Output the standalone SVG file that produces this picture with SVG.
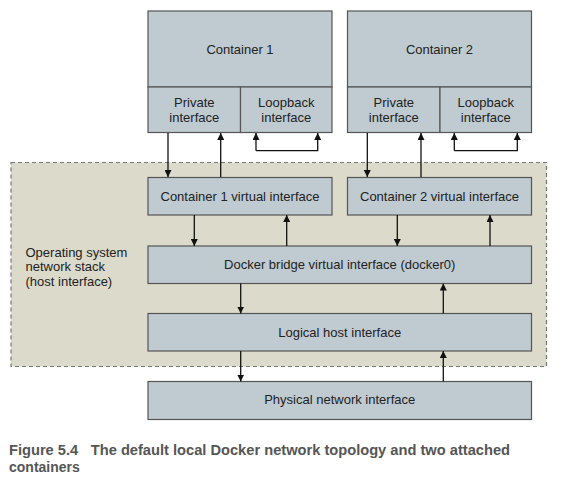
<svg xmlns="http://www.w3.org/2000/svg" width="561" height="482" viewBox="0 0 561 482">
<style>
.box{fill:#bfcbd1;stroke:#555;stroke-width:1.2}
.t{font-family:"Liberation Sans",Arial,sans-serif;font-size:13px;fill:#222;text-anchor:middle}
.lbl{font-family:"Liberation Sans",Arial,sans-serif;font-size:13px;fill:#222}
.cap{font-family:"Liberation Sans",Arial,sans-serif;font-size:14px;font-weight:bold;fill:#555}
.c{fill:none;stroke:#111;stroke-width:1.3}
</style>
<defs>
<marker id="ah" viewBox="0 0 10 10" refX="10" refY="5" markerWidth="7" markerHeight="7" markerUnits="userSpaceOnUse" orient="auto">
<path d="M0,0 L10,5 L0,10 z" fill="#111"/>
</marker>
</defs>
<rect width="561" height="482" fill="#fff"/>
<g id="host-stack">
<rect x="11" y="162.5" width="535.5" height="204" fill="#dcdacb" stroke="#777" stroke-width="1.2" stroke-dasharray="4,3"/>
<text class="lbl" x="25.5" y="257">Operating system</text>
<text class="lbl" x="25.5" y="271">network stack</text>
<text class="lbl" x="25.5" y="286">(host interface)</text>
</g>
<g id="container1">
<rect class="box" x="148" y="11" width="184" height="76"/>
<text class="t" x="240" y="54">Container 1</text>
<rect class="box" x="148" y="87" width="92.5" height="45.5"/>
<text class="t" x="194.3" y="107">Private</text>
<text class="t" x="194.3" y="122">interface</text>
<rect class="box" x="240.5" y="87" width="91.5" height="45.5"/>
<text class="t" x="286.3" y="107">Loopback</text>
<text class="t" x="286.3" y="122">interface</text>
</g>
<g id="container2">
<rect class="box" x="347.5" y="11" width="184" height="76"/>
<text class="t" x="439.5" y="54">Container 2</text>
<rect class="box" x="347.5" y="87" width="92.5" height="45.5"/>
<text class="t" x="393.8" y="107">Private</text>
<text class="t" x="393.8" y="122">interface</text>
<rect class="box" x="440" y="87" width="91.5" height="45.5"/>
<text class="t" x="485.8" y="107">Loopback</text>
<text class="t" x="485.8" y="122">interface</text>
</g>
<g id="c1-virtual">
<rect class="box" x="148" y="177.5" width="184" height="37.5"/>
<text class="t" x="240" y="201">Container 1 virtual interface</text>
</g>
<g id="c2-virtual">
<rect class="box" x="347.5" y="177.5" width="184" height="37.5"/>
<text class="t" x="439.5" y="201">Container 2 virtual interface</text>
</g>
<g id="docker0">
<rect class="box" x="148" y="246" width="383.5" height="37.5"/>
<text class="t" x="339.7" y="269">Docker bridge virtual interface (docker0)</text>
</g>
<g id="logical-host">
<rect class="box" x="148" y="313.5" width="383.5" height="37.5"/>
<text class="t" x="339.7" y="337">Logical host interface</text>
</g>
<g id="physical">
<rect class="box" x="148" y="381.5" width="383.5" height="38"/>
<text class="t" x="339.7" y="404">Physical network interface</text>
</g>
<g id="connectors">
<line class="c" x1="168" y1="133" x2="168" y2="177" marker-end="url(#ah)"/>
<line class="c" x1="220.7" y1="177" x2="220.7" y2="133" marker-end="url(#ah)"/>
<path class="c" d="M256,150.7 L256,133" marker-end="url(#ah)"/>
<path class="c" d="M256,150.7 L317.7,150.7 L317.7,133" marker-end="url(#ah)"/>
<line class="c" x1="367.3" y1="133" x2="367.3" y2="177" marker-end="url(#ah)"/>
<line class="c" x1="421" y1="177" x2="421" y2="133" marker-end="url(#ah)"/>
<path class="c" d="M454.3,150.7 L454.3,133" marker-end="url(#ah)"/>
<path class="c" d="M454.3,150.7 L517.3,150.7 L517.3,133" marker-end="url(#ah)"/>
<line class="c" x1="194.3" y1="215" x2="194.3" y2="246" marker-end="url(#ah)"/>
<line class="c" x1="286.7" y1="246" x2="286.7" y2="215" marker-end="url(#ah)"/>
<line class="c" x1="397.3" y1="215" x2="397.3" y2="246" marker-end="url(#ah)"/>
<line class="c" x1="490" y1="246" x2="490" y2="215" marker-end="url(#ah)"/>
<line class="c" x1="240.7" y1="283.5" x2="240.7" y2="313.5" marker-end="url(#ah)"/>
<line class="c" x1="443.3" y1="313.5" x2="443.3" y2="283.5" marker-end="url(#ah)"/>
<line class="c" x1="240.7" y1="351" x2="240.7" y2="381.5" marker-end="url(#ah)"/>
<line class="c" x1="443.3" y1="381.5" x2="443.3" y2="351" marker-end="url(#ah)"/>
</g>
<g id="caption">
<text class="cap" x="9" y="455" textLength="501" lengthAdjust="spacingAndGlyphs">Figure 5.4<tspan dx="12">The default local Docker network topology and two attached</tspan></text>
<text class="cap" x="9" y="472">containers</text>
</g>
</svg>
